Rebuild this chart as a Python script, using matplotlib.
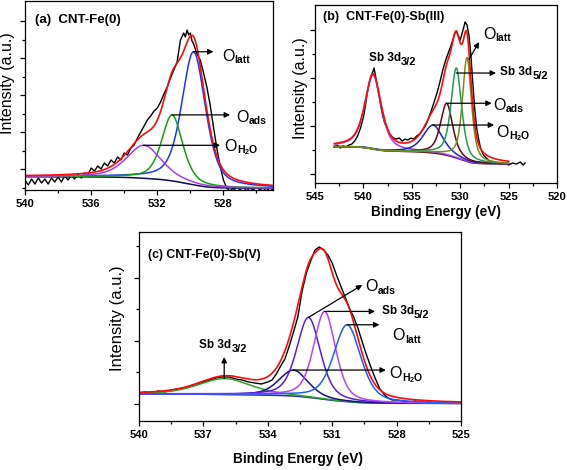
import numpy as np
import matplotlib
matplotlib.use('Agg')
import matplotlib.pyplot as plt
from matplotlib.ticker import MultipleLocator, FixedLocator

plt.rcParams['font.family'] = ['Liberation Sans', 'DejaVu Sans']
plt.rcParams['mathtext.fontset'] = 'custom'
plt.rcParams['mathtext.rm'] = 'Liberation Sans'
plt.rcParams['mathtext.bf'] = 'Liberation Sans:bold'

# ---------------- data ----------------
# (a) CNT-Fe(0): measured spectrum
a_energy = [540.0, 539.8, 539.6, 539.4, 539.2, 539.0, 538.8, 538.6, 538.4, 538.2,
            538.0, 537.8, 537.6, 537.4, 537.2, 537.0, 536.8, 536.6, 536.4, 536.2,
            536.0, 535.8, 535.6, 535.4, 535.2, 535.0, 534.8, 534.6, 534.4, 534.2,
            534.0, 533.8, 533.6, 533.4, 533.2, 533.0, 532.8, 532.6, 532.4, 532.2,
            532.0, 531.8, 531.6, 531.4, 531.2, 531.0, 530.8, 530.6, 530.4, 530.3,
            530.2, 530.1, 530.0, 529.9, 529.8, 529.6, 529.4, 529.2, 529.0, 528.8,
            528.6, 528.4, 528.2, 528.0, 527.8, 527.6, 527.4, 527.2, 527.0, 526.8,
            526.6, 526.4, 526.2, 526.0, 525.8, 525.6, 525.4, 525.2, 525.0]
a_counts = [10, 5, 11, 6, 12, 7, 11, 6, 12, 8,
            13, 8, 14, 10, 15, 11, 16, 12, 17, 15,
            22, 19, 24, 21, 27, 24, 30, 27, 33, 30,
            37, 35, 42, 45, 52, 58, 64, 70, 74, 79,
            82, 88, 96, 103, 112, 120, 128, 150, 157, 153,
            160, 155, 157, 149, 146, 136, 130, 117, 103, 85,
            63, 42, 24, 10, 2, -1, 2, -2, 1, -2,
            2, -1, 1, -2, 1, -1, 2, -1, 1]
# fitted components: centre (eV), height above background, FWHM (eV)
a_names = ['O_latt', 'O_ads', 'O_H2O']
a_centres = [529.8, 531.1, 532.8]
a_heights = [133, 66, 33]
a_fwhm = [1.7, 1.5, 2.5]
a_colors = ['#1f35ff', '#12a012', '#a63ee6']
a_bg = [13.3, 1.7]          # background level at high / low binding energy

# (b) CNT-Fe(0)-Sb(III)
b_energy = [543.0, 542.7, 542.4, 542.1, 541.8, 541.5, 541.2, 540.9, 540.6, 540.3,
            540.0, 539.8, 539.6, 539.4, 539.2, 539.0, 538.9, 538.8, 538.6, 538.4,
            538.2, 538.0, 537.8, 537.5, 537.2, 536.9, 536.6, 536.3, 536.0, 535.7,
            535.4, 535.1, 534.8, 534.5, 534.2, 533.9, 533.6, 533.3, 533.0, 532.7,
            532.4, 532.1, 531.8, 531.5, 531.2, 531.0, 530.8, 530.6, 530.4, 530.2,
            530.0, 529.8, 529.6, 529.5, 529.3, 529.1, 528.9, 528.7, 528.5, 528.3,
            528.1, 527.9, 527.6, 527.3, 527.0, 526.6, 526.2, 525.8, 525.4, 525.0,
            524.6, 524.2, 523.8, 523.5, 523.3]
b_counts = [36, 38, 35, 37, 36, 38, 39, 42, 47, 55,
            66, 77, 90, 100, 107, 112, 115, 110, 98, 88,
            77, 67, 60, 53, 48, 45, 44, 45, 42, 44,
            43, 45, 44, 47, 49, 53, 57, 64, 72, 81,
            90, 101, 113, 123, 131, 136, 142, 149, 152, 147,
            143, 150, 157, 161, 158, 148, 128, 100, 74, 55,
            44, 35, 28, 25, 22, 21, 20, 19, 20, 18,
            20, 19, 21, 18, 20]
b_names = ['Sb 3d3/2', 'O_H2O', 'O_ads', 'Sb 3d5/2', 'O_latt']
b_centres = [539.0, 532.8, 531.4, 530.4, 529.3]
b_heights = [74, 28, 52, 90, 104]
b_fwhm = [2.0, 2.4, 1.5, 1.3, 1.1]
b_colors = ['#a040e8', '#2020c8', '#5a0a14', '#229a5a', '#7a8c16']
b_bg = [36.3, 19.0]

# (c) CNT-Fe(0)-Sb(V)
c_energy = [540.0, 539.7, 539.4, 539.1, 538.8, 538.5, 538.2, 537.9, 537.6, 537.3,
            537.0, 536.7, 536.4, 536.1, 535.8, 535.5, 535.2, 534.9, 534.6, 534.3,
            534.0, 533.8, 533.6, 533.4, 533.2, 533.0, 532.8, 532.6, 532.4, 532.2,
            532.0, 531.8, 531.6, 531.4, 531.2, 531.0, 530.8, 530.6, 530.4, 530.2,
            530.0, 529.8, 529.6, 529.4, 529.2, 529.0, 528.8, 528.6, 528.4, 528.2,
            528.0, 527.7, 527.4, 527.1, 526.8, 526.5, 526.2, 525.9, 525.6, 525.3,
            525.0]
c_counts = [28, 29, 28, 30, 29, 31, 32, 33, 35, 36,
            39, 41, 43, 44, 44, 42, 41, 39, 38, 37,
            39, 41, 47, 55, 62, 75, 89, 104, 130, 148,
            160, 171, 174, 171, 166, 158, 146, 135, 124, 113,
            104, 93, 79, 66, 54, 43, 33, 27, 23, 21,
            21, 20, 19, 20, 18, 19, 18, 19, 18, 19,
            18]
c_names = ['Sb 3d3/2', 'O_H2O', 'O_ads', 'Sb 3d5/2', 'O_latt']
c_centres = [536.0, 532.8, 532.1, 531.35, 530.3]
c_heights = [16, 26, 80, 88, 77]
c_fwhm = [2.9, 1.6, 1.3, 1.2, 1.5]
c_colors = ['#2da52d', '#14147a', '#5a1ed2', '#b446ff', '#1f5cff']
c_bg = [27.0, 17.5]


def pvoigt(x, c, h, w, eta):
    u = (x - c) / w
    return h * ((1 - eta) * np.exp(-4 * np.log(2) * u ** 2) + eta / (1 + 4 * u ** 2))


def fit_curves(x, centres, heights, fwhm, bg_ends, eta):
    comps = [pvoigt(x, c, h, w, eta) for c, h, w in zip(centres, heights, fwhm)]
    total = np.sum(comps, axis=0)
    cum = np.cumsum(total) / total.sum()     # Shirley-type step, x ascending
    bg = bg_ends[1] + (bg_ends[0] - bg_ends[1]) * cum
    return bg, [bg + p for p in comps], bg + total


def frame(ax, xlim, xmaj, xmin, ymaj, ymin, ylim):
    ax.set_xlim(xlim)
    ax.set_ylim(ylim)
    ax.xaxis.set_major_locator(MultipleLocator(xmaj))
    ax.xaxis.set_minor_locator(MultipleLocator(xmin))
    ax.yaxis.set_major_locator(FixedLocator(ymaj))
    ax.yaxis.set_minor_locator(FixedLocator(ymin))
    ax.set_yticklabels([])
    ax.tick_params(which='both', direction='out', width=0.9, top=False, right=False)
    ax.tick_params(which='major', length=3.5, pad=3)
    ax.tick_params(which='minor', length=2)
    for lab in ax.get_xticklabels():
        lab.set_fontweight('bold')
        lab.set_fontsize(8)
    for s in ax.spines.values():
        s.set_linewidth(0.9)


def o_label(ax, x, y, sub):
    t = ax.text(x, y, 'O', fontsize=11.5, ha='left', va='center')
    ax.annotate(sub, xy=(1, 0), xycoords=t, xytext=(0.2, 0.5), textcoords='offset points',
                fontsize=7.5, fontweight='bold', va='baseline', ha='left')


def sb_label(ax, x, y, sub):
    t = ax.text(x, y, 'Sb 3d', fontsize=8.5, fontweight='bold', ha='left', va='center')
    ax.annotate(sub, xy=(1, 0), xycoords=t, xytext=(0.2, -0.5), textcoords='offset points',
                fontsize=8, fontweight='bold', va='baseline', ha='left')


def arrow(ax, start, end):
    ax.annotate('', xy=end, xytext=start,
                arrowprops=dict(arrowstyle='-|>', color='black', lw=0.9,
                                mutation_scale=8, shrinkA=0, shrinkB=0))


fig = plt.figure(figsize=(5.67, 4.70), dpi=100)
ax_a = fig.add_axes([0.0441, 0.5957, 0.4374, 0.4021])
ax_b = fig.add_axes([0.5556, 0.6106, 0.4268, 0.3787])
ax_c = fig.add_axes([0.2451, 0.1043, 0.5679, 0.4021])

# ---- (a) ----
xa = np.linspace(525, 540, 700)
bg, comps, env = fit_curves(xa, a_centres, a_heights, a_fwhm, a_bg, 0.5)
ax_a.plot(a_energy, a_counts, color='black', lw=1.0)
ax_a.plot(xa, bg, color='#0c0c4a', lw=1.1)
for y, col in zip(comps, a_colors):
    ax_a.plot(xa, y, color=col, lw=1.1)
ax_a.plot(xa, env, color='#ff0a0a', lw=1.2)
frame(ax_a, (540, 525), 4, 2, [21, 58, 95, 132, 169], [2.5, 39.5, 76.5, 113.5, 150.5], (0, 189))
ax_a.text(0.04, 0.90, '(a)  CNT-Fe(0)', transform=ax_a.transAxes, fontsize=9.5,
          fontweight='bold', va='center')
ax_a.set_ylabel('Intensity (a.u.)', fontsize=11.5)
ax_a.yaxis.set_label_coords(-0.04, 0.566)
peak_a = [(xa[y.argmax()], y.max()) for y in comps]
a_arrow_end = [528.6, 527.6, 528.2]
a_text_pos = [(528.1, 134), (527.25, 73), (527.95, 44)]
a_subs = [r'latt', r'ads', r'H$_\mathbf{2}$O']
for (px, py), ex, (tx, ty), sub in zip(peak_a, a_arrow_end, a_text_pos, a_subs):
    arrow(ax_a, (px, py), (ex, py))
    o_label(ax_a, tx, ty, sub)

# ---- (b) ----
xb = np.linspace(525, 543, 800)
bg, comps, env = fit_curves(xb, b_centres, b_heights, b_fwhm, b_bg, 0.6)
ax_b.plot(b_energy, b_counts, color='black', lw=1.0)
ax_b.plot(xb, bg, color='#5a0a14', lw=1.1)
for y, col in zip(comps, b_colors):
    ax_b.plot(xb, y, color=col, lw=1.1)
ax_b.plot(xb, env, color='#ff0a0a', lw=1.2)
frame(ax_b, (545, 520), 5, 2.5, [9, 57, 105, 153], [33, 81, 129], (0, 178))
ax_b.text(0.033, 0.933, '(b)  CNT-Fe(0)-Sb(III)', transform=ax_b.transAxes, fontsize=9,
          fontweight='bold', va='center')
ax_b.set_ylabel('Intensity (a.u.)', fontsize=11.5)
ax_b.yaxis.set_label_coords(-0.029, 0.534)
ax_b.set_xlabel('Binding Energy (eV)', fontsize=9.8, fontweight='bold')
ax_b.xaxis.set_label_coords(0.5, -0.124)
peak_b = [(xb[y.argmax()], y.max()) for y in comps]
sb_label(ax_b, 539.45, 125, '3/2')
# O_latt arrow points up-right from the O_latt peak
arrow(ax_b, (peak_b[4][0] - 0.2, peak_b[4][1] - 2), (528.05, 141))
o_label(ax_b, 527.64, 149, 'latt')
arrow(ax_b, (peak_b[3][0], peak_b[3][1] - 5), (526.3, peak_b[3][1] - 5))
sb_label(ax_b, 525.9, 111, '5/2')
arrow(ax_b, peak_b[2], (526.75, peak_b[2][1]))
o_label(ax_b, 526.6, 78, 'ads')
arrow(ax_b, peak_b[1], (526.5, peak_b[1][1]))
o_label(ax_b, 526.3, 51, r'H$_\mathbf{2}$O')

# ---- (c) ----
xc = np.linspace(525, 540, 700)
bg, comps, env = fit_curves(xc, c_centres, c_heights, c_fwhm, c_bg, 0.45)
ax_c.plot(c_energy, c_counts, color='black', lw=1.0)
ax_c.plot(xc, bg, color='#2a2aa0', lw=1.1)
for y, col in zip(comps, c_colors):
    ax_c.plot(xc, y, color=col, lw=1.1)
ax_c.plot(xc, env, color='#ff0a0a', lw=1.2)
frame(ax_c, (540, 525), 3, 1.5, [17, 80, 143], [48.5, 111.5, 174.5], (0, 189))
ax_c.text(0.028, 0.878, '(c) CNT-Fe(0)-Sb(V)', transform=ax_c.transAxes, fontsize=8.8,
          fontweight='bold', va='center')
ax_c.set_ylabel('Intensity (a.u.)', fontsize=12)
ax_c.yaxis.set_label_coords(-0.0435, 0.545)
ax_c.set_xlabel('Binding Energy (eV)', fontsize=9.8, fontweight='bold')
ax_c.xaxis.set_label_coords(0.494, -0.164)
peak_c = [(xc[y.argmax()], y.max()) for y in comps]
arrow(ax_c, peak_c[0], (peak_c[0][0], 64))
sb_label(ax_c, 537.2, 76, '3/2')
arrow(ax_c, peak_c[2], (529.6, 136))
o_label(ax_c, 529.45, 134, 'ads')
arrow(ax_c, peak_c[3], (529.0, peak_c[3][1]))
sb_label(ax_c, 528.7, 110, '5/2')
arrow(ax_c, peak_c[4], (528.8, peak_c[4][1]))
o_label(ax_c, 528.2, 85, 'latt')
arrow(ax_c, peak_c[1], (528.5, peak_c[1][1]))
o_label(ax_c, 528.35, 47, r'H$_\mathbf{2}$O')

fig.savefig('out.png', dpi=100)
